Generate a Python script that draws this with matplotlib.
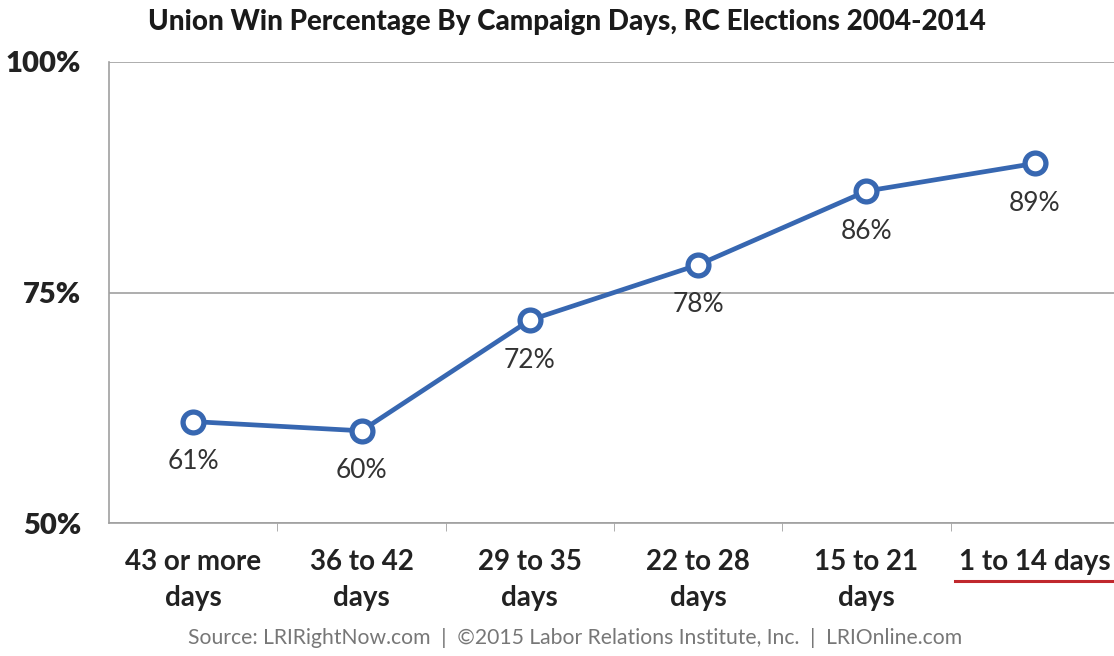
import matplotlib
matplotlib.use("Agg")
import matplotlib.pyplot as plt
from matplotlib.ticker import FixedLocator

categories = ["43 or more\ndays", "36 to 42\ndays", "29 to 35\ndays", "22 to 28\ndays", "15 to 21\ndays", "1 to 14 days"]
win_pct = [61, 60, 72, 78, 86, 89]
y_ticks = [50, 75, 100]
y_tick_labels = ["50%", "75%", "100%"]

plt.rcParams['font.family'] = ['Lato', 'DejaVu Sans']

W, H = 1114, 656
fig = plt.figure(figsize=(W / 100, H / 100), dpi=100)
ax = fig.add_axes([109 / W, (H - 523) / H, 1010 / W, 461 / H])

blue = "#3767b1"
x = list(range(len(categories)))
ax.plot(x, win_pct, color=blue, lw=3.4, marker="o", ms=15, mfc="white", mec=blue, mew=3.8, zorder=3, clip_on=False)

for xi, v in zip(x, win_pct):
    ax.annotate(f"{v}%", (xi, v), xytext=(0, -40), textcoords="offset pixels",
                ha="center", va="center", fontsize=19, color="#333333")

ax.set_xlim(-0.5, 5.5)
ax.set_ylim(50, 100)
ax.set_yticks(y_ticks)
ax.set_yticklabels(y_tick_labels, fontsize=21, fontweight="heavy", color="#222222")
ax.tick_params(axis="y", length=0, pad=20)
ax.yaxis.grid(True, color="#a0a0a0", lw=1.2)
ax.set_axisbelow(True)

ax.set_xticks(x)
ax.set_xticklabels(categories, fontsize=20, fontweight="bold", color="#222222", linespacing=1.45)
ax.tick_params(axis="x", length=0, pad=19)
ax.xaxis.set_minor_locator(FixedLocator([0.5, 1.5, 2.5, 3.5, 4.5]))
ax.tick_params(axis="x", which="minor", length=6, color="#a0a0a0", direction="out")

for s in ["top", "right"]:
    ax.spines[s].set_visible(False)
for s in ["left", "bottom"]:
    ax.spines[s].set_color("#a0a0a0")
    ax.spines[s].set_linewidth(1.2)

fig.text(567 / W, 1 - 22 / H, "Union Win Percentage By Campaign Days, RC Elections 2004-2014",
         ha="center", va="center", fontsize=20, fontweight="black", color="#1a1a1a")
fig.text(575 / W, 1 - 638 / H,
         "Source: LRIRightNow.com  |  \u00a92015 Labor Relations Institute, Inc.  |  LRIOnline.com",
         ha="center", va="center", fontsize=15.2, color="#777777")

fig.add_artist(plt.Line2D([955 / W, 1114 / W], [1 - 581 / H, 1 - 581 / H], color="#c0282d", lw=2.2))

fig.savefig("out.png", dpi=100, facecolor="white")
